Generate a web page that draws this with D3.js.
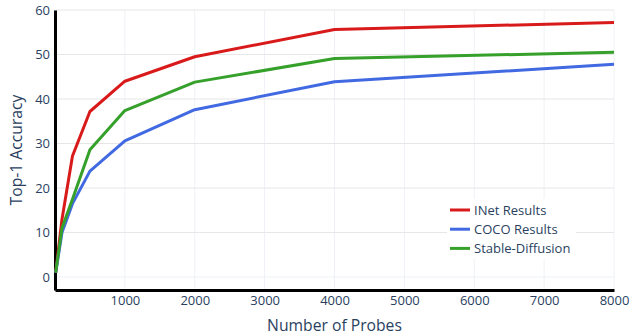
<!DOCTYPE html>
<html>
<head>
<meta charset="utf-8">
<script src="https://cdn.jsdelivr.net/npm/d3@7"></script>
<style>
  body { margin: 0; background: #fff; }
  text { font-family: "Open Sans", sans-serif; fill: #2a3f5f; }
</style>
</head>
<body>
<div id="chart"></div>
<script>
// probe counts on the x axis
let probes = [10, 100, 250, 500, 1000, 2000, 4000, 8000];

// top-1 accuracy for each series
let inetValues = [1, 13, 27.2, 37.2, 44.0, 49.5, 55.6, 57.2];
let cocoValues = [1, 10, 16.5, 23.8, 30.6, 37.6, 43.9, 47.8];
let sdValues = [1, 11, 17.5, 28.6, 37.4, 43.8, 49.1, 50.5];

let seriesNames = ['INet Results', 'COCO Results', 'Stable-Diffusion'];
let seriesColors = ['#d91a1a', '#4169e1', '#35a02a'];

let xTicks = [1000, 2000, 3000, 4000, 5000, 6000, 7000, 8000];
let yTicks = [0, 10, 20, 30, 40, 50, 60];

let series = [inetValues, cocoValues, sdValues].map((vals, i) => ({
    name: seriesNames[i],
    color: seriesColors[i],
    points: probes.map((p, j) => ({x: p, y: vals[j]}))
}));

// chart constants
let totalWidth = 631;
let totalHeight = 336;
let margins = {top: 10, right: 17, bottom: 46, left: 55};

let xScale = d3.scaleLinear()
    .domain([0, 8000])
    .range([margins.left, totalWidth - margins.right]);

let yScale = d3.scaleLinear()
    .domain([-2.9, 60])
    .range([totalHeight - margins.bottom, margins.top]);

let svg = d3.select('#chart')
    .append('svg')
    .attr('width', totalWidth)
    .attr('height', totalHeight);

// grid lines
svg.append('g')
    .selectAll('line')
    .data(xTicks)
    .enter()
    .append('line')
    .attr('x1', d => xScale(d))
    .attr('x2', d => xScale(d))
    .attr('y1', yScale.range()[0])
    .attr('y2', yScale.range()[1])
    .style('stroke', '#eef1f6')
    .style('stroke-width', 1);

svg.append('g')
    .selectAll('line')
    .data(yTicks)
    .enter()
    .append('line')
    .attr('x1', xScale.range()[0])
    .attr('x2', xScale.range()[1])
    .attr('y1', d => yScale(d))
    .attr('y2', d => yScale(d))
    .style('stroke', d => d === 0 ? '#eef1f6' : '#e6e6e6')
    .style('stroke-width', 1);

// axes
let xAxis = d3.axisBottom(xScale).tickValues(xTicks).tickFormat(d3.format('d')).tickSize(0).tickPadding(6);
let yAxis = d3.axisLeft(yScale).tickValues(yTicks).tickSize(0).tickPadding(5);

let gx = svg.append('g')
    .attr('transform', `translate(0, ${yScale.range()[0]})`)
    .call(xAxis);
let gy = svg.append('g')
    .attr('transform', `translate(${xScale.range()[0]}, 0)`)
    .call(yAxis);

[gx, gy].forEach(g => {
    g.select('.domain').style('stroke', '#000').style('stroke-width', 3);
    g.selectAll('text')
        .style('font-family', '"Open Sans", sans-serif')
        .style('font-size', '13px')
        .style('fill', '#2a3f5f');
});

// lines
let line = d3.line()
    .x(d => xScale(d.x))
    .y(d => yScale(d.y));

svg.append('g')
    .selectAll('path')
    .data(series)
    .enter()
    .append('path')
    .attr('d', d => line(d.points))
    .style('fill', 'none')
    .style('stroke', d => d.color)
    .style('stroke-width', 3)
    .style('stroke-linejoin', 'round');

// axis titles
svg.append('text')
    .attr('x', (xScale.range()[0] + xScale.range()[1]) / 2)
    .attr('y', 331)
    .attr('text-anchor', 'middle')
    .style('font-size', '15.7px')
    .text('Number of Probes');

svg.append('text')
    .attr('transform', `translate(22, ${(yScale.range()[0] + yScale.range()[1]) / 2}) rotate(-90)`)
    .attr('text-anchor', 'middle')
    .style('font-size', '15.7px')
    .text('Top-1 Accuracy');

// legend
let legendX = 447;
let legendY = 199;

svg.append('rect')
    .attr('x', legendX)
    .attr('y', legendY)
    .attr('width', 129)
    .attr('height', 60)
    .style('fill', '#fff');

let legend = svg.selectAll('.legend')
    .data(series)
    .enter()
    .append('g')
    .attr('class', 'legend')
    .attr('transform', (d, i) => `translate(${legendX + 3}, ${legendY + 11 + i * 19.2})`);

legend.append('line')
    .attr('x1', 0)
    .attr('x2', 20)
    .style('stroke', d => d.color)
    .style('stroke-width', 3);

legend.append('text')
    .attr('x', 24)
    .attr('dy', '0.35em')
    .style('font-size', '13px')
    .text(d => d.name);
</script>
</body>
</html>
